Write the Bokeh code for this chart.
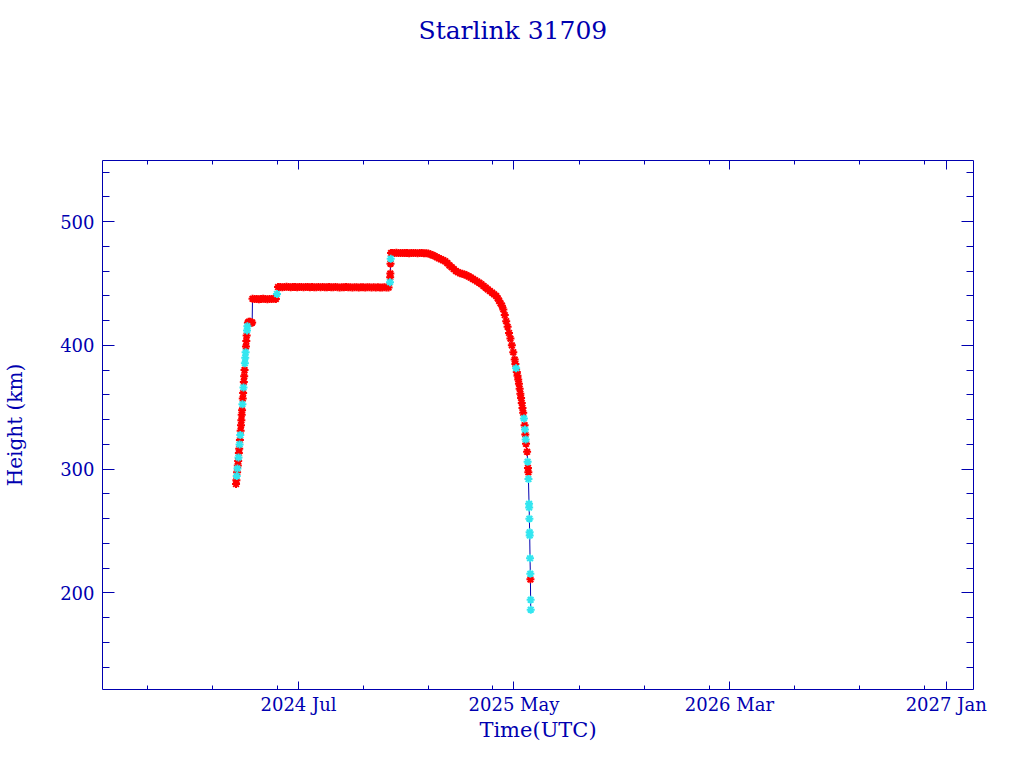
from datetime import datetime
import pandas as pd
from bokeh.plotting import figure
from bokeh.models import (Range1d, FixedTicker, DatetimeAxis, LinearAxis, Title,
                          DatetimeTickFormatter, ColumnDataSource)
from bokeh.embed import file_html
from bokeh.resources import INLINE

NAVY = "#0000b0"
RED = "#ff0000"
CYAN = "#33e6f0"
FONT = "DejaVu Serif"

title_text = "Starlink 31709"
x_label = "Time(UTC)"
y_label = "Height (km)"

x_major_ticks = ["2023-09-01", "2024-07-01", "2025-05-01", "2026-03-01", "2027-01-01"]
x_minor_ticks = ["2023-12-01", "2024-03-01", "2024-06-01", "2024-10-01", "2025-01-01",
                 "2025-04-01", "2025-08-01", "2025-11-01", "2026-02-01", "2026-06-01",
                 "2026-09-01", "2026-12-01"]
y_major_ticks = [200, 300, 400, 500]
y_minor_ticks = [140, 160, 180, 220, 240, 260, 280, 320, 340, 360, 380,
                 420, 440, 460, 480, 520, 540]

# --- orbit raising (April 2024) ---
rise_times = ["2024-04-03 18:00", "2024-04-04 06:00", "2024-04-04 18:00", "2024-04-05 06:00",
              "2024-04-05 18:00", "2024-04-06 06:00", "2024-04-06 18:00", "2024-04-07 06:00",
              "2024-04-07 18:00", "2024-04-08 06:00", "2024-04-08 18:00", "2024-04-09 06:00",
              "2024-04-09 18:00", "2024-04-10 06:00", "2024-04-10 18:00", "2024-04-11 06:00",
              "2024-04-11 18:00", "2024-04-12 06:00", "2024-04-12 18:00", "2024-04-13 06:00",
              "2024-04-13 18:00", "2024-04-14 06:00", "2024-04-14 18:00", "2024-04-15 06:00",
              "2024-04-15 18:00", "2024-04-16 06:00", "2024-04-16 18:00", "2024-04-17 06:00",
              "2024-04-17 18:00", "2024-04-18 06:00", "2024-04-18 18:00", "2024-04-19 06:00",
              "2024-04-19 18:00", "2024-04-20 12:00", "2024-04-21 12:00", "2024-04-22 12:00",
              "2024-04-23 12:00", "2024-04-24 12:00", "2024-04-25 12:00", "2024-04-26 12:00"]
rise_heights = [288.0, 291.0, 294.5, 297.5, 300.5, 303.0, 306.5, 309.5, 313.0, 316.5,
                320.0, 323.5, 327.5, 331.0, 335.5, 339.5, 344.0, 347.5, 352.5, 357.0,
                361.5, 366.0, 370.5, 375.0, 380.0, 385.5, 390.0, 394.5, 399.0, 403.5,
                408.0, 412.0, 415.5, 418.0, 419.0, 418.5, 419.0, 418.5, 418.0, 418.5]
rise_kinds = ["r", "r", "c", "r", "c", "r", "r", "c", "r", "r",
              "c", "r", "c", "r", "r", "r", "r", "r", "c", "r",
              "r", "c", "r", "r", "r", "c", "c", "c", "r", "r",
              "r", "c", "c", "r", "r", "r", "r", "r", "r", "r"]

# --- first plateau ---
low_times = ["2024-04-27", "2024-04-30", "2024-05-03", "2024-05-06", "2024-05-09", "2024-05-12",
             "2024-05-15", "2024-05-18", "2024-05-21", "2024-05-24", "2024-05-27", "2024-05-30",
             "2024-05-31 12:00"]
low_heights = [437.6, 437.4, 437.5, 437.3, 437.5, 437.6, 437.4, 437.3, 437.5, 437.4, 437.6, 437.5,
               441.5]
low_kinds = ["r", "r", "r", "r", "r", "r", "r", "r", "r", "r", "r", "r", "c"]

# --- second plateau ---
mid_times = ["2024-06-02", "2024-06-05", "2024-06-08", "2024-06-11", "2024-06-14", "2024-06-17",
             "2024-06-20", "2024-06-23", "2024-06-26", "2024-06-29", "2024-07-02", "2024-07-05",
             "2024-07-08", "2024-07-11", "2024-07-14", "2024-07-17", "2024-07-20", "2024-07-23",
             "2024-07-26", "2024-07-29", "2024-08-01", "2024-08-04", "2024-08-07", "2024-08-10",
             "2024-08-13", "2024-08-16", "2024-08-19", "2024-08-22", "2024-08-25", "2024-08-28",
             "2024-08-31", "2024-09-03", "2024-09-06", "2024-09-09", "2024-09-12", "2024-09-15",
             "2024-09-18", "2024-09-21", "2024-09-24", "2024-09-27", "2024-09-30", "2024-10-03",
             "2024-10-06", "2024-10-09", "2024-10-12", "2024-10-15", "2024-10-18", "2024-10-21",
             "2024-10-24", "2024-10-27", "2024-10-30", "2024-11-02", "2024-11-05"]
mid_heights = [447.1, 447.2, 447.0, 447.1, 447.3, 447.1, 447.0, 447.2, 447.1, 447.0,
               447.2, 447.1, 447.0, 447.1, 447.2, 447.0, 447.1, 447.0, 446.9, 447.1,
               447.0, 447.2, 447.0, 446.9, 447.1, 447.0, 446.9, 447.1, 447.0, 446.8,
               447.0, 446.9, 447.1, 446.9, 447.0, 446.8, 447.0, 446.9, 446.8, 447.0,
               446.9, 446.8, 447.0, 446.9, 446.8, 446.9, 446.7, 446.9, 446.8, 446.7,
               446.9, 446.8, 446.7]
mid_kinds = ["r"] * len(mid_times)

# --- raise to operational shell ---
step_times = ["2024-11-07 00:00", "2024-11-07 06:00", "2024-11-07 12:00", "2024-11-07 18:00",
              "2024-11-08 00:00", "2024-11-08 12:00"]
step_heights = [451.0, 455.0, 458.0, 466.0, 470.0, 474.5]
step_kinds = ["c", "r", "r", "r", "c", "r"]

top_times = ["2024-11-10", "2024-11-13", "2024-11-16", "2024-11-19", "2024-11-22", "2024-11-25",
             "2024-11-28", "2024-12-01", "2024-12-04", "2024-12-07", "2024-12-10", "2024-12-13",
             "2024-12-16", "2024-12-19", "2024-12-22", "2024-12-25", "2024-12-28"]
top_heights = [474.6, 474.5, 474.7, 474.6, 474.5, 474.6, 474.5, 474.6, 474.4, 474.5,
               474.6, 474.5, 474.4, 474.5, 474.5, 474.4, 474.4]
top_kinds = ["r"] * len(top_times)

# --- decay and re-entry ---
decay_times = ["2024-12-31", "2025-01-03", "2025-01-06", "2025-01-09", "2025-01-12", "2025-01-15",
               "2025-01-18", "2025-01-21", "2025-01-24", "2025-01-27", "2025-01-30", "2025-02-02",
               "2025-02-05", "2025-02-08", "2025-02-11", "2025-02-14", "2025-02-17", "2025-02-20",
               "2025-02-23", "2025-02-26", "2025-03-01", "2025-03-04", "2025-03-07", "2025-03-10",
               "2025-03-13", "2025-03-16", "2025-03-19", "2025-03-22", "2025-03-25", "2025-03-28",
               "2025-03-31", "2025-04-03", "2025-04-06", "2025-04-08", "2025-04-10", "2025-04-12",
               "2025-04-14", "2025-04-16", "2025-04-18", "2025-04-20", "2025-04-22", "2025-04-24",
               "2025-04-26", "2025-04-28", "2025-04-30", "2025-05-02", "2025-05-03", "2025-05-04",
               "2025-05-05", "2025-05-06", "2025-05-07", "2025-05-08", "2025-05-09", "2025-05-10",
               "2025-05-11", "2025-05-12", "2025-05-13", "2025-05-14", "2025-05-15", "2025-05-16",
               "2025-05-16 12:00", "2025-05-17", "2025-05-17 12:00", "2025-05-18", "2025-05-19 12:00",
               "2025-05-20 06:00", "2025-05-20 18:00", "2025-05-21 06:00", "2025-05-21 10:00",
               "2025-05-22 06:00", "2025-05-22 10:00", "2025-05-22 18:00", "2025-05-23 02:00",
               "2025-05-23 05:00", "2025-05-23 16:00", "2025-05-24 02:00", "2025-05-24 05:00",
               "2025-05-24 12:00", "2025-05-24 15:00"]
decay_heights = [474.2, 473.6, 472.9, 472.1, 471.2, 470.4, 469.6, 468.8, 468.0, 466.4,
                 464.6, 463.1, 461.6, 460.1, 459.0, 458.3, 457.8, 457.3, 456.6, 455.7,
                 454.8, 453.7, 452.6, 451.6, 450.6, 449.4, 448.0, 446.6, 445.2, 443.9,
                 442.6, 441.2, 439.8, 438.0, 436.0, 434.0, 432.0, 429.0, 424.5, 419.5,
                 415.0, 410.0, 405.5, 400.0, 394.5, 388.5, 385.0, 381.5, 378.5, 375.5,
                 372.5, 369.0, 365.0, 361.0, 357.5, 353.5, 349.5, 345.5, 341.0, 335.5,
                 332.0, 328.0, 324.0, 320.5, 314.0, 306.0, 301.0, 297.5, 292.0, 272.0,
                 269.0, 260.0, 249.0, 246.5, 228.0, 215.5, 211.0, 194.5, 186.5]
decay_kinds = ["r", "r", "r", "r", "r", "r", "r", "r", "r", "r",
               "r", "r", "r", "r", "r", "r", "r", "r", "r", "r",
               "r", "r", "r", "r", "r", "r", "r", "r", "r", "r",
               "r", "r", "r", "r", "r", "r", "r", "r", "r", "r",
               "r", "r", "r", "r", "r", "r", "r", "c", "r", "r",
               "r", "r", "r", "r", "r", "r", "r", "r", "c", "r",
               "c", "r", "c", "r", "r", "c", "r", "r", "c", "c",
               "c", "c", "c", "c", "c", "c", "r", "c", "c"]

all_times = rise_times + low_times + mid_times + step_times + top_times + decay_times
all_heights = rise_heights + low_heights + mid_heights + step_heights + top_heights + decay_heights
all_kinds = rise_kinds + low_kinds + mid_kinds + step_kinds + top_kinds + decay_kinds

t = pd.to_datetime(all_times, format="mixed")
df = pd.DataFrame({"t": t, "h": all_heights, "k": all_kinds})
src_all = ColumnDataSource(df)
src_red = ColumnDataSource(df[df.k == "r"])
src_cyan = ColumnDataSource(df[df.k == "c"])


def to_ms(lst):
    return [pd.Timestamp(s).value / 1e6 for s in lst]


p = figure(width=1000, height=745, x_axis_type="datetime",
           x_range=Range1d(datetime(2023, 9, 28, 7), datetime(2027, 2, 8, 12)),
           y_range=Range1d(122.05, 549.3),
           output_backend="svg", toolbar_location=None,
           min_border_left=102, min_border_right=27, min_border_top=160, min_border_bottom=56)
p.title.visible = False
p.background_fill_color = "white"
p.border_fill_color = "white"
p.xgrid.visible = False
p.ygrid.visible = False
p.outline_line_color = NAVY
p.outline_line_width = 1
p.outline_line_alpha = 1.0

xticker = FixedTicker(ticks=to_ms(x_major_ticks), minor_ticks=to_ms(x_minor_ticks))
yticker = FixedTicker(ticks=y_major_ticks, minor_ticks=y_minor_ticks)
fmt = "%Y %b"
xfmt = DatetimeTickFormatter(microseconds=fmt, milliseconds=fmt, seconds=fmt, minsec=fmt,
                             minutes=fmt, hourmin=fmt, hours=fmt, days=fmt, months=fmt, years=fmt)


def style_axis(ax, major_in, minor_in, labels):
    ax.axis_line_color = None
    ax.major_tick_line_color = NAVY
    ax.minor_tick_line_color = NAVY
    ax.major_tick_in = major_in
    ax.major_tick_out = 0
    ax.minor_tick_in = minor_in
    ax.minor_tick_out = 0
    ax.major_label_text_font = FONT
    ax.axis_label_text_font = FONT
    ax.axis_label_text_color = NAVY
    ax.axis_label_text_font_style = "normal"
    if labels:
        ax.major_label_text_font_size = "18px"
        ax.major_label_text_color = NAVY
    else:
        ax.major_label_text_font_size = "1px"
        ax.major_label_text_color = None
        ax.major_label_standoff = 0


bottom = p.below[0]
bottom.ticker = xticker
bottom.formatter = xfmt
style_axis(bottom, 8, 4, True)
bottom.major_label_standoff = 4
bottom.axis_label = x_label
bottom.axis_label_text_font_size = "21px"
bottom.axis_label_standoff = 0

left = p.left[0]
left.ticker = yticker
style_axis(left, 12, 7, True)
left.major_label_standoff = 8
left.axis_label = y_label
left.axis_label_text_font_size = "20px"
left.axis_label_standoff = 30

top_ax = DatetimeAxis(ticker=xticker, formatter=xfmt)
style_axis(top_ax, 9, 4, False)
p.add_layout(top_ax, "above")

# invisible spacer axis: keeps a blank band between the title and the frame
spacer_ax = DatetimeAxis(ticker=xticker, formatter=xfmt)
style_axis(spacer_ax, 0, 0, False)
spacer_ax.major_tick_line_color = None
spacer_ax.minor_tick_line_color = None
spacer_ax.major_tick_out = 111
p.add_layout(spacer_ax, "above")

right_ax = LinearAxis(ticker=yticker)
style_axis(right_ax, 12, 7, False)
p.add_layout(right_ax, "right")

p.add_layout(Title(text=title_text, align="left", offset=316, standoff=10,
                   text_font=FONT, text_font_size="25px", text_font_style="normal",
                   text_color=NAVY), "above")

p.line("t", "h", source=src_all, line_color=NAVY, line_width=1)
p.scatter("t", "h", source=src_red, marker="asterisk", size=8, line_color=RED, line_width=2)
p.scatter("t", "h", source=src_cyan, marker="asterisk", size=8, line_color=CYAN, line_width=2)

open("out.html", "w").write(file_html(p, INLINE))
